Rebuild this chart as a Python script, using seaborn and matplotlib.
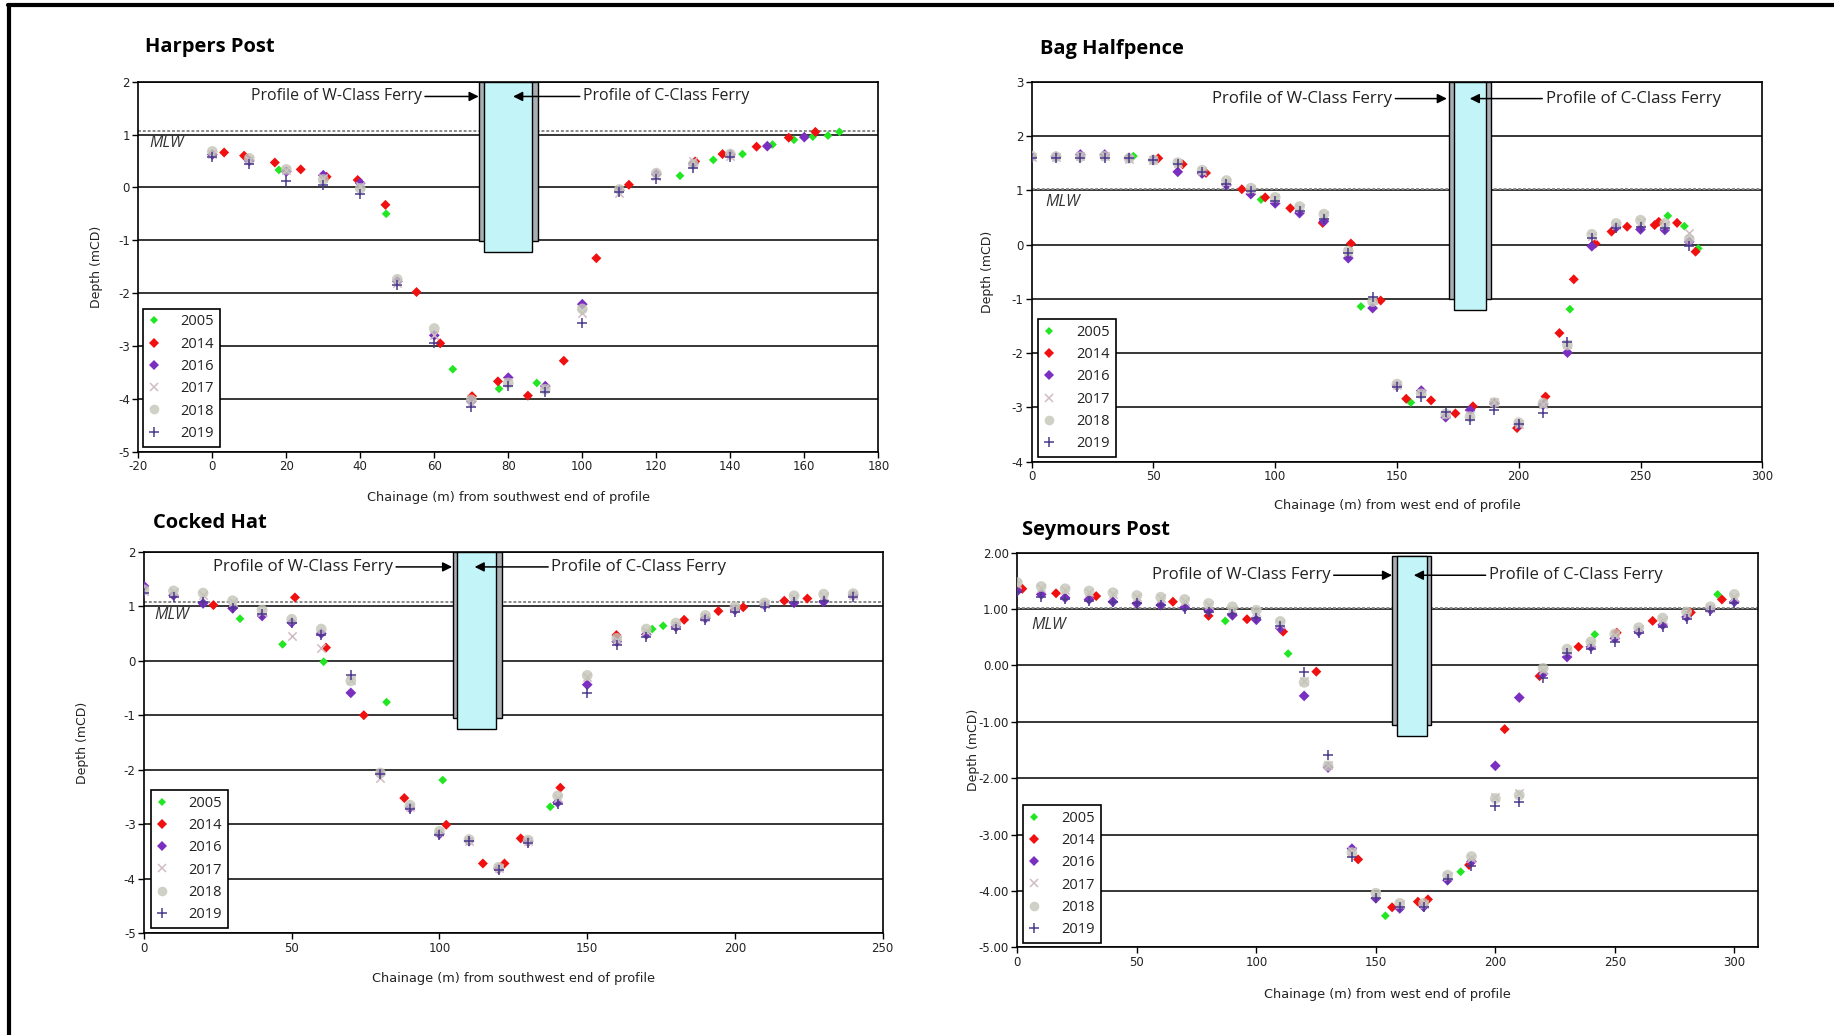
import matplotlib
matplotlib.use("Agg")
import numpy as np
import pandas as pd
import matplotlib.pyplot as plt
import seaborn as sns
from matplotlib.patches import Rectangle
from matplotlib.lines import Line2D
from matplotlib.ticker import FixedLocator, StrMethodFormatter

sns.set_theme(style="white")
plt.rcParams['font.family'] = ['DejaVu Sans']
plt.rcParams['axes.unicode_minus'] = False

YEARS = ['2005', '2014', '2016', '2017', '2018', '2019']

# ---------------- Harpers Post ----------------
hp_x_2005 = [18, 47, 65, 77.5, 87.7, 126.4, 135.4, 143.3, 151.4, 157.2, 162.3, 166.4, 169.5]
hp_y_2005 = [0.33, -0.50, -3.44, -3.81, -3.70, 0.22, 0.52, 0.63, 0.81, 0.90, 0.96, 0.98, 1.05]
hp_x_2014 = [3.2, 8.6, 16.9, 23.9, 30.9, 39.3, 46.8, 55.2, 61.6, 70.2, 77.2, 85.3, 95.0, 103.8,
             112.6, 130.5, 137.9, 147.1, 155.8, 163.0]
hp_y_2014 = [0.66, 0.60, 0.47, 0.34, 0.20, 0.14, -0.33, -1.98, -2.95, -3.95, -3.67, -3.94, -3.28,
             -1.34, 0.05, 0.49, 0.63, 0.77, 0.94, 1.05]
hp_x_2016 = [0, 10, 20, 30, 40, 50, 60, 70, 80, 90, 100, 110, 120, 130, 140, 150, 160]
hp_y_2016 = [0.62, 0.50, 0.30, 0.23, 0.08, -1.78, -2.80, -4.05, -3.60, -3.76, -2.21, -0.06, 0.25,
             0.45, 0.62, 0.78, 0.95]
hp_x_later = [0, 10, 20, 30, 40, 50, 60, 70, 80, 90, 100, 110, 120, 130, 140]
hp_y_2017 = [0.64, 0.52, 0.32, 0.18, 0.02, -1.80, -2.80, -4.08, -3.68, -3.80, -2.37, -0.10, 0.22, 0.50, 0.60]
hp_y_2018 = [0.68, 0.55, 0.34, 0.15, -0.02, -1.74, -2.67, -4.02, -3.70, -3.82, -2.30, -0.04, 0.27, 0.44, 0.63]
hp_y_2019 = [0.58, 0.44, 0.13, 0.05, -0.13, -1.85, -2.95, -4.16, -3.75, -3.88, -2.56, -0.08, 0.16, 0.37, 0.58]

# ---------------- Bag Halfpence ----------------
bh_x_2005 = [41.8, 94.2, 135.2, 155.7, 221.0, 261.2, 268.0, 273.7]
bh_y_2005 = [1.63, 0.83, -1.14, -2.91, -1.19, 0.53, 0.34, -0.07]
bh_x_2014 = [52.0, 62.0, 71.6, 86.3, 95.9, 106.2, 119.5, 131.1, 143.3, 153.8, 164.0, 174.0, 181.2,
             199.3, 211.0, 216.7, 222.6, 231.5, 238.1, 244.5, 255.8, 257.5, 265.0, 272.6]
bh_y_2014 = [1.59, 1.48, 1.32, 1.02, 0.87, 0.67, 0.40, 0.02, -1.03, -2.84, -2.87, -3.11, -2.98,
             -3.38, -2.80, -1.63, -0.64, 0.02, 0.24, 0.33, 0.36, 0.42, 0.40, -0.13]
bh_x_later = [0, 10, 20, 30, 40, 50, 60, 70, 80, 90, 100, 110, 120, 130, 140, 150, 160, 170, 180,
              190, 200, 210, 220, 230, 240, 250, 260, 270]
bh_y_2016 = [1.62, 1.62, 1.66, 1.66, 1.60, 1.56, 1.34, 1.31, 1.10, 0.93, 0.76, 0.58, 0.43, -0.25,
             -1.17, -2.60, -2.69, -3.18, -3.05, -2.93, -3.32, -2.95, -1.99, -0.03, 0.32, 0.28, 0.27, 0.05]
bh_y_2017 = [1.62, 1.61, 1.63, 1.64, 1.58, 1.55, 1.50, 1.36, 1.16, 1.02, 0.85, 0.68, 0.54, -0.14,
             -1.02, -2.58, -2.74, -3.12, -3.14, -2.90, -3.30, -2.93, -1.83, 0.16, 0.36, 0.42, 0.36, 0.22]
bh_y_2018 = [1.63, 1.62, 1.62, 1.63, 1.59, 1.56, 1.51, 1.37, 1.18, 1.04, 0.87, 0.70, 0.56, -0.12,
             -1.05, -2.57, -2.75, -3.12, -3.17, -2.91, -3.28, -2.92, -1.85, 0.19, 0.39, 0.45, 0.39, 0.10]
bh_y_2019 = [1.60, 1.60, 1.60, 1.60, 1.59, 1.56, 1.49, 1.34, 1.12, 0.98, 0.80, 0.62, 0.47, -0.15,
             -0.96, -2.63, -2.80, -3.08, -3.24, -3.05, -3.30, -3.10, -1.79, 0.13, 0.30, 0.33, 0.30, -0.03]

# ---------------- Cocked Hat ----------------
ch_x_2005 = [32.5, 46.9, 60.8, 82.1, 101.1, 137.5, 172.0, 175.7]
ch_y_2005 = [0.77, 0.30, -0.02, -0.76, -2.19, -2.68, 0.58, 0.64]
ch_x_2014 = [23.5, 51.1, 61.6, 74.4, 88.1, 102.3, 114.7, 122.0, 127.5, 140.9, 159.9, 182.8, 194.4,
             202.8, 216.7, 224.5]
ch_y_2014 = [1.02, 1.16, 0.24, -1.00, -2.52, -3.01, -3.72, -3.72, -3.26, -2.33, 0.47, 0.75, 0.91,
             0.98, 1.10, 1.14]
ch_x_later = [0, 10, 20, 30, 40, 50, 60, 70, 80, 90, 100, 110, 120, 130, 140, 150, 160, 170, 180,
              190, 200, 210, 220, 230, 240]
ch_y_2016 = [1.37, 1.20, 1.05, 0.96, 0.82, 0.70, 0.50, -0.59, -2.08, -2.70, -3.18, -3.31, -3.82,
             -3.32, -2.60, -0.44, 0.35, 0.48, 0.62, 0.78, 0.93, 1.02, 1.06, 1.08, 1.20]
ch_y_2017 = [1.28, 1.26, 1.20, 1.08, 0.90, 0.45, 0.23, -0.35, -2.16, -2.68, -3.15, -3.30, -3.80,
             -3.30, -2.52, -0.30, 0.38, 0.55, 0.66, 0.80, 0.96, 1.04, 1.15, 1.19, 1.21]
ch_y_2018 = [1.30, 1.28, 1.24, 1.10, 0.93, 0.76, 0.58, -0.37, -2.06, -2.65, -3.13, -3.28, -3.79,
             -3.29, -2.48, -0.27, 0.41, 0.58, 0.69, 0.83, 0.99, 1.06, 1.19, 1.22, 1.23]
ch_y_2019 = [1.25, 1.16, 1.07, 0.96, 0.85, 0.69, 0.47, -0.27, -2.08, -2.72, -3.20, -3.31, -3.84,
             -3.34, -2.63, -0.60, 0.29, 0.44, 0.58, 0.75, 0.90, 0.99, 1.08, 1.10, 1.16]

# ---------------- Seymours Post ----------------
sp_x_2005 = [87.0, 113.3, 154.0, 185.5, 241.6, 293.0]
sp_y_2005 = [0.79, 0.21, -4.44, -3.66, 0.55, 1.26]
sp_x_2014 = [2.1, 16.2, 33.0, 65.1, 80.0, 96.1, 111.2, 125.1, 142.6, 156.8, 167.6, 171.8, 189.0,
             203.9, 218.5, 234.8, 250.8, 265.8, 281.8, 294.8]
sp_y_2014 = [1.36, 1.28, 1.23, 1.13, 0.88, 0.82, 0.60, -0.11, -3.44, -4.29, -4.19, -4.15, -3.54,
             -1.13, -0.19, 0.33, 0.58, 0.79, 0.94, 1.17]
sp_x_later = [0, 10, 20, 30, 40, 50, 60, 70, 80, 90, 100, 110, 120, 130, 140, 150, 160, 170, 180,
              190, 200, 210, 220, 230, 240, 250, 260, 270, 280, 290, 300]
sp_y_2016 = [1.32, 1.26, 1.20, 1.17, 1.13, 1.10, 1.07, 1.03, 0.97, 0.89, 0.81, 0.66, -0.54, -1.81,
             -3.25, -4.13, -4.31, -4.28, -3.81, -3.48, -1.78, -0.57, -0.15, 0.15, 0.33, 0.48, 0.60,
             0.72, 0.86, 0.99, 1.13]
sp_y_2017 = [1.44, 1.38, 1.33, 1.30, 1.27, 1.22, 1.19, 1.14, 1.07, 1.01, 0.94, 0.74, -0.28, -1.76,
             -3.30, -4.06, -4.24, -4.24, -3.74, -3.42, -2.33, -2.27, -0.08, 0.26, 0.40, 0.54, 0.64,
             0.80, 0.92, 1.02, 1.22]
sp_y_2018 = [1.47, 1.40, 1.36, 1.32, 1.29, 1.24, 1.21, 1.17, 1.10, 1.04, 0.98, 0.78, -0.30, -1.78,
             -3.32, -4.04, -4.22, -4.22, -3.72, -3.39, -2.36, -2.30, -0.05, 0.29, 0.42, 0.56, 0.67,
             0.84, 0.95, 1.04, 1.26]
sp_y_2019 = [1.30, 1.22, 1.18, 1.15, 1.12, 1.11, 1.08, 1.00, 0.95, 0.92, 0.85, 0.70, -0.12, -1.59,
             -3.39, -4.12, -4.28, -4.29, -3.78, -3.56, -2.49, -2.42, -0.22, 0.22, 0.30, 0.42, 0.57,
             0.69, 0.83, 0.97, 1.11]


def long_frame(site, series):
    rows = []
    for year, xs, ys in series:
        for xv, yv in zip(xs, ys):
            rows.append((site, year, xv, yv))
    return pd.DataFrame(rows, columns=['site', 'year', 'chainage', 'depth'])


df = pd.concat([
    long_frame('Harpers Post', [('2005', hp_x_2005, hp_y_2005), ('2014', hp_x_2014, hp_y_2014),
                                ('2016', hp_x_2016, hp_y_2016), ('2017', hp_x_later, hp_y_2017),
                                ('2018', hp_x_later, hp_y_2018), ('2019', hp_x_later, hp_y_2019)]),
    long_frame('Bag Halfpence', [('2005', bh_x_2005, bh_y_2005), ('2014', bh_x_2014, bh_y_2014),
                                 ('2016', bh_x_later, bh_y_2016), ('2017', bh_x_later, bh_y_2017),
                                 ('2018', bh_x_later, bh_y_2018), ('2019', bh_x_later, bh_y_2019)]),
    long_frame('Cocked Hat', [('2005', ch_x_2005, ch_y_2005), ('2014', ch_x_2014, ch_y_2014),
                              ('2016', ch_x_later, ch_y_2016), ('2017', ch_x_later, ch_y_2017),
                              ('2018', ch_x_later, ch_y_2018), ('2019', ch_x_later, ch_y_2019)]),
    long_frame('Seymours Post', [('2005', sp_x_2005, sp_y_2005), ('2014', sp_x_2014, sp_y_2014),
                                 ('2016', sp_x_later, sp_y_2016), ('2017', sp_x_later, sp_y_2017),
                                 ('2018', sp_x_later, sp_y_2018), ('2019', sp_x_later, sp_y_2019)]),
], ignore_index=True)

# marker styles per year (later years drawn on top, as in the original)
STYLE = {
    '2005': dict(marker='D', color='#22e622', s=20, z=3.0, alpha=1.0),
    '2014': dict(marker='D', color='#f01010', s=26, z=3.2, alpha=1.0),
    '2016': dict(marker='D', color='#7a2fc0', s=30, z=3.4, alpha=1.0),
    '2017': dict(marker='x', color='#d2bcc4', s=36, z=3.6, alpha=1.0),
    '2018': dict(marker='o', color='#c4c5b8', s=60, z=3.8, alpha=0.8),
    '2019': dict(marker='+', color='#4b3a8c', s=60, z=4.0, alpha=1.0),
}

PANELS = [
    dict(site='Harpers Post', rect=[0.0754, 0.5636, 0.4035, 0.3575], xlim=(-20, 180),
         xticks=list(range(-20, 181, 20)), ylim=(-5, 2), fmt='{x:.0f}',
         xlabel='Chainage (m) from southwest end of profile', xlab_y=-0.105,
         title_xy=(0.0791, 0.9546), ylab_x=-0.048, ferry_fs=11.4,
         grey=(72, 88, -1.02, 2.0), cyan=(73.5, 86.3, -1.22, 2.0),
         arr_y=1.72, w_end=56.6, w_head=72, c_start=100.2, c_head=81.3,
         mlw=1.06, mlw_txt=(-17, 0.84), leg=(0.006, 0.0135)),
    dict(site='Bag Halfpence', rect=[0.5625, 0.5539, 0.3984, 0.3671], xlim=(0, 300),
         xticks=list(range(0, 301, 50)), ylim=(-4, 3), fmt='{x:.0f}',
         xlabel='Chainage (m) from west end of profile', xlab_y=-0.098,
         title_xy=(0.5671, 0.9527), ylab_x=-0.052, ferry_fs=12.1,
         grey=(171.5, 188.6, -1.01, 3.0), cyan=(173.6, 186.7, -1.2, 3.0),
         arr_y=2.69, w_end=148, w_head=170.5, c_start=211, c_head=179.9,
         mlw=1.03, mlw_txt=(5.5, 0.79), leg=(0.009, 0.012)),
    dict(site='Cocked Hat', rect=[0.0785, 0.0983, 0.4028, 0.3687], xlim=(0, 250),
         xticks=list(range(0, 251, 50)), ylim=(-5, 2), fmt='{x:.0f}',
         xlabel='Chainage (m) from southwest end of profile', xlab_y=-0.102,
         title_xy=(0.0834, 0.4947), ylab_x=-0.0745, ferry_fs=12.1,
         grey=(104.5, 121.2, -1.06, 2.0), cyan=(106, 119.2, -1.25, 2.0),
         arr_y=1.72, w_end=84.2, w_head=104.3, c_start=137.9, c_head=111.9,
         mlw=1.07, mlw_txt=(3.4, 0.84), leg=(0.009, 0.014)),
    dict(site='Seymours Post', rect=[0.5547, 0.0847, 0.4040, 0.3813], xlim=(0, 310),
         xticks=list(range(0, 301, 50)), ylim=(-5, 2), fmt='{x:.2f}',
         xlabel='Chainage (m) from west end of profile', xlab_y=-0.102,
         title_xy=(0.5572, 0.4879), ylab_x=-0.050, ferry_fs=12.0,
         grey=(156.8, 172.9, -1.06, 1.94), cyan=(158.9, 171.5, -1.25, 1.94),
         arr_y=1.60, w_end=131, w_head=156.8, c_start=197.3, c_head=165.9,
         mlw=1.02, mlw_txt=(6, 0.72), leg=(0.008, 0.011)),
]

fig = plt.figure(figsize=(18.34, 10.35), dpi=100)
fig.patch.set_facecolor('white')

TXT = ['Open Sans', 'DejaVu Sans']

for p in PANELS:
    ax = fig.add_axes(p['rect'])
    ax.set_facecolor('white')
    sub = df[df['site'] == p['site']]
    for yr in YEARS:
        st = STYLE[yr]
        d = sub[sub['year'] == yr]
        kw = dict(data=d, x='chainage', y='depth', ax=ax, marker=st['marker'],
                  color=st['color'], s=st['s'], zorder=st['z'], alpha=st['alpha'], legend=False)
        if st['marker'] in ('+', 'x'):
            kw['linewidth'] = 1.1
        else:
            kw['edgecolor'] = 'none'
            kw['linewidth'] = 0
        sns.scatterplot(**kw)

    ax.set_xlim(*p['xlim'])
    ax.set_ylim(*p['ylim'])
    yt = list(range(p['ylim'][0], p['ylim'][1] + 1))
    ax.xaxis.set_major_locator(FixedLocator(p['xticks']))
    ax.yaxis.set_major_locator(FixedLocator(yt))
    ax.yaxis.set_major_formatter(StrMethodFormatter(p['fmt']))
    for yv in yt:
        ax.axhline(yv, color='black', lw=1.1, zorder=1)
    # MLW line
    ax.axhline(p['mlw'], color='#8a8a8a', lw=1.4, ls=(0, (1.5, 1.0)), zorder=1)
    ax.text(p['mlw_txt'][0], p['mlw_txt'][1], 'MLW', fontstyle='italic', fontsize=11.5,
            family=TXT, color='#333333', ha='left', va='center', zorder=2)

    # ferry profiles
    gx0, gx1, gy0, gy1 = p['grey']
    ax.add_patch(Rectangle((gx0, gy0), gx1 - gx0, gy1 - gy0, facecolor='#a9aeb3',
                           edgecolor='black', lw=1.0, zorder=2))
    cx0, cx1, cy0, cy1 = p['cyan']
    ax.add_patch(Rectangle((cx0, cy0), cx1 - cx0, cy1 - cy0, facecolor='#c2f4f8',
                           edgecolor='black', lw=1.0, zorder=2.1))
    ap = dict(arrowstyle='-|>', color='black', lw=1.1, shrinkA=0, shrinkB=0, mutation_scale=14)
    ax.annotate('Profile of W-Class Ferry', xy=(p['w_head'], p['arr_y']),
                xytext=(p['w_end'], p['arr_y']), ha='right', va='center', fontsize=p['ferry_fs'],
                family=TXT, color='#222222', arrowprops=ap, zorder=3)
    ax.annotate('Profile of C-Class Ferry', xy=(p['c_head'], p['arr_y']),
                xytext=(p['c_start'], p['arr_y']), ha='left', va='center', fontsize=p['ferry_fs'],
                family=TXT, color='#222222', arrowprops=ap, zorder=3)

    for sp in ax.spines.values():
        sp.set_visible(True)
        sp.set_color('black')
        sp.set_linewidth(1.2)
    ax.tick_params(axis='both', direction='out', length=4, width=1, color='black',
                   labelsize=8.5, labelcolor='#222222', left=True, bottom=True, pad=2)
    ax.grid(False)
    ax.set_xlabel(p['xlabel'], fontsize=9.3, color='#222222')
    ax.xaxis.set_label_coords(0.5, p['xlab_y'])
    ax.set_ylabel('Depth (mCD)', fontsize=9, color='#222222')
    ax.yaxis.set_label_coords(p['ylab_x'], 0.5)

    fig.text(p['title_xy'][0], p['title_xy'][1], p['site'], fontsize=14.5, fontweight='bold',
             family=TXT, ha='left', va='center', color='black')

    handles = []
    for yr in YEARS:
        st = STYLE[yr]
        ms = np.sqrt(st['s']) * (0.9 if st['marker'] == 'o' else 1.0)
        handles.append(Line2D([], [], ls='none', marker=st['marker'], color=st['color'],
                              markersize=ms, markeredgewidth=1.1 if st['marker'] in '+x' else 0,
                              alpha=st['alpha']))
    leg = ax.legend(handles, YEARS, loc='lower left', bbox_to_anchor=p['leg'], borderaxespad=0,
                    frameon=True, fancybox=False, framealpha=1, edgecolor='black',
                    prop={'family': TXT, 'size': 10.5}, handlelength=0.7, handletextpad=1.5,
                    labelspacing=0.5, borderpad=0.4)
    leg.get_frame().set_linewidth(1.2)
    leg.set_zorder(10)
    for t in leg.get_texts():
        t.set_color('#222222')

# page frame (top and left edges)
fig.add_artist(Line2D([8 / 1834, 1.0], [1 - 5 / 1035, 1 - 5 / 1035], transform=fig.transFigure,
                      color='black', lw=3))
fig.add_artist(Line2D([9 / 1834, 9 / 1834], [0.0, 1 - 5 / 1035], transform=fig.transFigure,
                      color='black', lw=3))

fig.savefig('out.png', dpi=100, facecolor='white')
